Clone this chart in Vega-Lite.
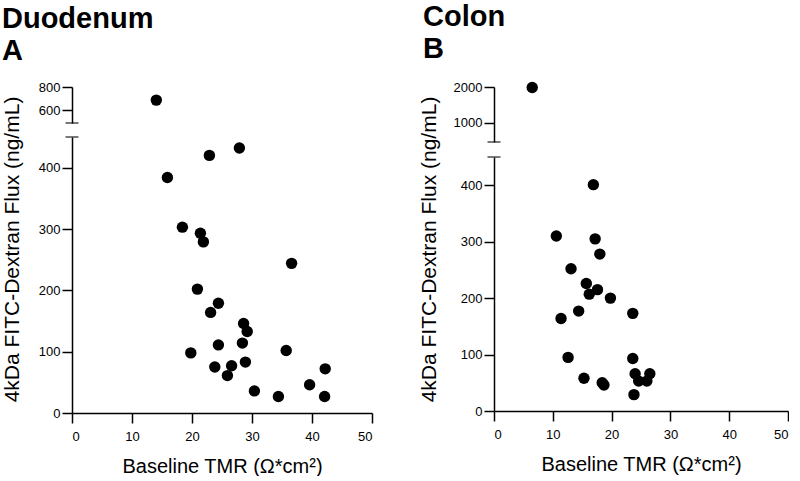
{
  "$schema": "https://vega.github.io/schema/vega-lite/v6.json",
  "padding": {"left": 0, "top": 3, "right": 0, "bottom": 0},
  "background": "white",
  "config": {
    "view": {"stroke": null},
    "font": "Liberation Sans",
    "axis": {
      "grid": false,
      "domainColor": "black",
      "domainWidth": 1.5,
      "tickColor": "black",
      "tickWidth": 1.5,
      "tickSize": 10,
      "labelColor": "black",
      "labelFont": "Liberation Sans",
      "labelFontSize": 13,
      "labelPadding": 2,
      "titleColor": "black",
      "titleFont": "Liberation Sans",
      "titleFontSize": 21,
      "titleFontWeight": "normal"
    },
    "axisX": {"tickSize": 10, "labelPadding": 7, "titlePadding": 13, "titleFontSize": 20},
    "title": {"color": "black", "font": "Liberation Sans", "fontWeight": "bold", "fontSize": 29, "anchor": "start", "lineHeight": 32}
  },
  "datasets": {
    "duoHigh": [{"tmr": 14.05, "flux": 687}],
    "duoLow": [
      {"tmr": 15.9, "flux": 384}, {"tmr": 22.9, "flux": 420}, {"tmr": 27.9, "flux": 432},
      {"tmr": 18.4, "flux": 303}, {"tmr": 21.4, "flux": 293}, {"tmr": 21.9, "flux": 279},
      {"tmr": 36.6, "flux": 244}, {"tmr": 20.9, "flux": 202}, {"tmr": 24.4, "flux": 179},
      {"tmr": 23.1, "flux": 164}, {"tmr": 28.6, "flux": 146}, {"tmr": 29.2, "flux": 133},
      {"tmr": 24.4, "flux": 111}, {"tmr": 28.4, "flux": 114}, {"tmr": 19.8, "flux": 98},
      {"tmr": 35.7, "flux": 102}, {"tmr": 23.8, "flux": 75}, {"tmr": 26.6, "flux": 77},
      {"tmr": 25.9, "flux": 61}, {"tmr": 28.9, "flux": 83}, {"tmr": 42.2, "flux": 72},
      {"tmr": 30.4, "flux": 36}, {"tmr": 34.4, "flux": 27}, {"tmr": 39.6, "flux": 46},
      {"tmr": 42.1, "flux": 27}
    ],
    "colHigh": [{"tmr": 6.5, "flux": 1985}],
    "colLow": [
      {"tmr": 16.9, "flux": 401}, {"tmr": 10.6, "flux": 310}, {"tmr": 17.2, "flux": 305},
      {"tmr": 18.0, "flux": 278}, {"tmr": 13.1, "flux": 252}, {"tmr": 15.7, "flux": 226},
      {"tmr": 16.2, "flux": 207}, {"tmr": 17.6, "flux": 215}, {"tmr": 19.8, "flux": 200},
      {"tmr": 14.4, "flux": 177}, {"tmr": 23.6, "flux": 173}, {"tmr": 11.4, "flux": 164},
      {"tmr": 12.6, "flux": 95}, {"tmr": 23.6, "flux": 93}, {"tmr": 15.3, "flux": 58},
      {"tmr": 18.4, "flux": 50}, {"tmr": 18.7, "flux": 46}, {"tmr": 24.0, "flux": 66},
      {"tmr": 24.6, "flux": 53}, {"tmr": 26.0, "flux": 53}, {"tmr": 26.5, "flux": 66},
      {"tmr": 23.8, "flux": 29}
    ]
  },
  "spacing": 44,
  "hconcat": [
    {
      "title": {"text": ["Duodenum", "A"], "offset": 15, "dx": 1},
      "bounds": "flush",
      "spacing": 14,
      "vconcat": [
        {
          "width": 300,
          "height": 36,
          "layer": [
            {
              "data": {"name": "duoHigh"},
              "mark": {"type": "point", "filled": true, "color": "black", "opacity": 1, "size": 130},
              "encoding": {
                "x": {"field": "tmr", "type": "quantitative", "scale": {"domain": [0, 50], "nice": false}, "axis": null},
                "y": {"field": "flux", "type": "quantitative", "scale": {"domain": [490, 800], "nice": false, "zero": false}, "axis": {"values": [600, 800], "title": null}}
              }
            },
            {
              "data": {"values": [{}]},
              "mark": {"type": "tick", "orient": "horizontal", "size": 13, "thickness": 1.5, "color": "black"},
              "encoding": {"x": {"datum": 0}, "y": {"datum": 490}}
            }
          ]
        },
        {
          "width": 300,
          "height": 276,
          "layer": [
            {
              "data": {"name": "duoLow"},
              "mark": {"type": "point", "filled": true, "color": "black", "opacity": 1, "size": 130},
              "encoding": {
                "x": {"field": "tmr", "type": "quantitative", "scale": {"domain": [0, 50], "nice": false}, "axis": {"values": [0, 10, 20, 30, 40, 50], "title": "Baseline TMR (Ω*cm²)"}},
                "y": {"field": "flux", "type": "quantitative", "scale": {"domain": [0, 450], "nice": false}, "axis": {"values": [0, 100, 200, 300, 400], "title": "4kDa FITC-Dextran Flux (ng/mL)", "titleX": -60, "titleY": 112, "titleAngle": 270, "titleBaseline": "middle", "titleAlign": "center"}}
              }
            },
            {
              "data": {"values": [{}]},
              "mark": {"type": "tick", "orient": "horizontal", "size": 13, "thickness": 1.5, "color": "black"},
              "encoding": {"x": {"datum": 0}, "y": {"datum": 450}}
            }
          ]
        }
      ]
    },
    {
      "title": {"text": ["Colon", "B"], "offset": 17, "dx": 5},
      "bounds": "flush",
      "spacing": 15,
      "vconcat": [
        {
          "width": 294,
          "height": 55,
          "layer": [
            {
              "data": {"name": "colHigh"},
              "mark": {"type": "point", "filled": true, "color": "black", "opacity": 1, "size": 130},
              "encoding": {
                "x": {"field": "tmr", "type": "quantitative", "scale": {"domain": [0, 50], "nice": false}, "axis": null},
                "y": {"field": "flux", "type": "quantitative", "scale": {"domain": [470, 2000], "nice": false, "zero": false}, "axis": {"values": [1000, 2000], "format": "d", "title": null}}
              }
            },
            {
              "data": {"values": [{}]},
              "mark": {"type": "tick", "orient": "horizontal", "size": 13, "thickness": 1.5, "color": "black"},
              "encoding": {"x": {"datum": 0}, "y": {"datum": 470}}
            }
          ]
        },
        {
          "width": 294,
          "height": 254,
          "layer": [
            {
              "data": {"name": "colLow"},
              "mark": {"type": "point", "filled": true, "color": "black", "opacity": 1, "size": 130},
              "encoding": {
                "x": {"field": "tmr", "type": "quantitative", "scale": {"domain": [0, 50], "nice": false}, "axis": {"values": [0, 10, 20, 30, 40, 50], "title": "Baseline TMR (Ω*cm²)"}},
                "y": {"field": "flux", "type": "quantitative", "scale": {"domain": [0, 450], "nice": false}, "axis": {"values": [0, 100, 200, 300, 400], "title": "4kDa FITC-Dextran Flux (ng/mL)", "titleX": -65, "titleY": 92, "titleAngle": 270, "titleBaseline": "middle", "titleAlign": "center"}}
              }
            },
            {
              "data": {"values": [{}]},
              "mark": {"type": "tick", "orient": "horizontal", "size": 13, "thickness": 1.5, "color": "black"},
              "encoding": {"x": {"datum": 0}, "y": {"datum": 450}}
            }
          ]
        }
      ]
    }
  ]
}
